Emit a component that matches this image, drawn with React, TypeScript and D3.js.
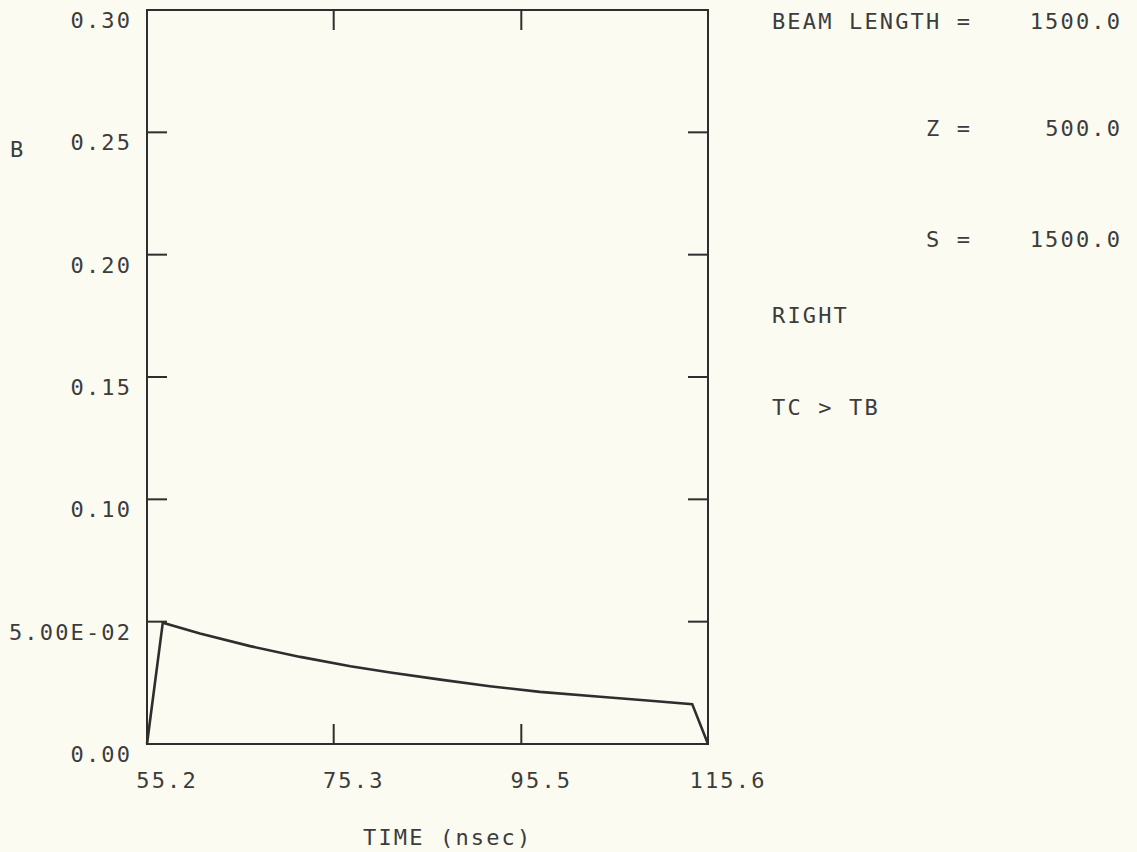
import React from "react";
import * as d3 from "d3";

// B versus time for the right-hand beam (TC > TB)
const timeNs = [55.2, 56.9, 60.9, 66.3, 71.7, 77.1, 81.4, 86.8, 92.1, 97.5, 104.0, 109.4, 113.9, 115.6];
const bValues = [0.0, 0.0496, 0.0452, 0.04, 0.0356, 0.0318, 0.0292, 0.0263, 0.0236, 0.0213, 0.0193, 0.0177, 0.0163, 0.0];

const xTicks = [55.2, 75.3, 95.5, 115.6];
const xTickLabels = ["55.2", "75.3", "95.5", "115.6"];
const yTicks = [0.0, 0.05, 0.1, 0.15, 0.2, 0.25, 0.3];
const yTickLabels = ["0.00", "5.00E-02", "0.10", "0.15", "0.20", "0.25", "0.30"];

const paramNames = ["BEAM LENGTH", "Z", "S"];
const paramValues = ["1500.0", "500.0", "1500.0"];
const notes = ["RIGHT", "TC > TB"];

const W = 1137;
const H = 852;
const frame = { left: 147, right: 708, top: 10, bottom: 744 };
const tickLen = 20;
const ink = "#2e2e2e";
const textInk = "#3c3c3c";
const paper = "#fbfbf1";
const mono = "'DejaVu Sans Mono', 'Liberation Mono', monospace";

// plotter lettering: fixed pitch of about 15.4px per character
const fontPx = 22;
const pitch = 15.4;
const spacing = pitch - fontPx * 0.602;

export default function App() {
  const x = d3.scaleLinear().domain([55.2, 115.6]).range([frame.left, frame.right]);
  const y = d3.scaleLinear().domain([0, 0.3]).range([frame.bottom, frame.top]);

  const line = d3
    .line<number>()
    .x((_, i) => x(timeNs[i]))
    .y((d) => y(d))
    .curve(d3.curveLinear);

  const innerY = yTicks.filter((v) => v > 0 && v < 0.3);
  const innerX = xTicks.slice(1, -1);

  const eqEnd = 772 + 13 * pitch; // right end of the "name =" column
  const rowY = [29, 136, 247];

  return (
    <svg
      width={W}
      height={H}
      style={{ position: "absolute", left: 0, top: 0, background: paper }}
    >
      <rect x={0} y={0} width={W} height={H} fill={paper} />

      {/* frame */}
      <rect
        x={frame.left}
        y={frame.top}
        width={frame.right - frame.left}
        height={frame.bottom - frame.top}
        fill="none"
        stroke={ink}
        strokeWidth={2}
      />

      {/* inward ticks */}
      {innerY.map((v) => (
        <g key={"yt" + v} stroke={ink} strokeWidth={2}>
          <line x1={frame.left} x2={frame.left + tickLen} y1={y(v)} y2={y(v)} />
          <line x1={frame.right - tickLen} x2={frame.right} y1={y(v)} y2={y(v)} />
        </g>
      ))}
      {innerX.map((t) => (
        <g key={"xt" + t} stroke={ink} strokeWidth={2}>
          <line x1={x(t)} x2={x(t)} y1={frame.top} y2={frame.top + tickLen} />
          <line x1={x(t)} x2={x(t)} y1={frame.bottom - tickLen} y2={frame.bottom} />
        </g>
      ))}

      {/* data */}
      <path
        d={line(bValues) || ""}
        fill="none"
        stroke={ink}
        strokeWidth={2.6}
        strokeLinejoin="miter"
      />

      <g fontFamily={mono} fontSize={fontPx} fill={textInk} letterSpacing={spacing}>
        {/* y labels */}
        {yTicks.map((v, i) => (
          <text key={"yl" + v} x={frame.left - 17 + spacing} y={y(v) + 18} textAnchor="end">
            {yTickLabels[i]}
          </text>
        ))}
        {/* x labels */}
        {xTicks.map((t, i) => (
          <text key={"xl" + t} x={x(t) + 19 + spacing / 2} y={788} textAnchor="middle">
            {xTickLabels[i]}
          </text>
        ))}
        <text x={10} y={157}>B</text>
        <text x={363} y={845}>TIME (nsec)</text>

        {/* run parameters */}
        {paramNames.map((n, i) => (
          <g key={n}>
            <text x={eqEnd} y={rowY[i]} textAnchor="end">{n + " ="}</text>
            <text x={1120 + spacing} y={rowY[i]} textAnchor="end">{paramValues[i]}</text>
          </g>
        ))}
        {notes.map((n, i) => (
          <text key={n} x={772} y={323 + i * 92}>{n}</text>
        ))}
      </g>
    </svg>
  );
}
